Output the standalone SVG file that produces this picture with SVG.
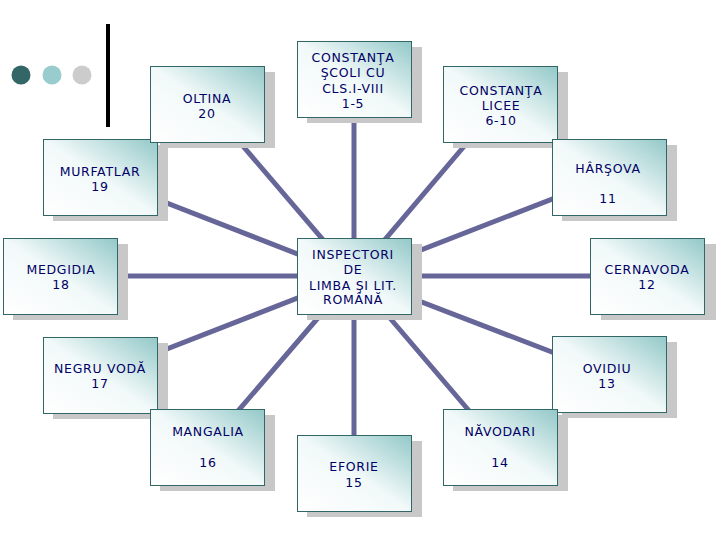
<svg xmlns="http://www.w3.org/2000/svg" width="720" height="540" viewBox="0 0 720 540">
<style>
.box{fill:url(#g);stroke:#336666;stroke-width:1}
.sh{fill:#c8c8c8}
.t{font-family:"DejaVu Sans","Liberation Sans",sans-serif;font-size:12.5px;fill:#000066;text-anchor:middle;letter-spacing:0.7px}
.c{stroke:#666699;stroke-width:5;fill:none}
</style>
<defs>
<linearGradient id="g" x1="1" y1="0" x2="0" y2="1">
<stop offset="0" stop-color="#93c8c8"/>
<stop offset="0.5" stop-color="#f2f9f9"/>
<stop offset="1" stop-color="#ffffff"/>
</linearGradient>
</defs>
<rect width="720" height="540" fill="#ffffff"/>
<g id="decor">
<circle cx="21" cy="75" r="9.5" fill="#336666"/>
<circle cx="52" cy="75" r="9.5" fill="#99cccc"/>
<circle cx="82" cy="75" r="9.5" fill="#cccccc"/>
<rect x="106" y="24" width="4" height="103" fill="#000000"/>
</g>
<g id="connectors">
<line class="c" x1="354" y1="276" x2="207" y2="104"/>
<line class="c" x1="354" y1="276" x2="354" y2="79"/>
<line class="c" x1="354" y1="276" x2="500" y2="104"/>
<line class="c" x1="354" y1="276" x2="100" y2="177"/>
<line class="c" x1="354" y1="276" x2="609" y2="177"/>
<line class="c" x1="354" y1="276" x2="60" y2="276"/>
<line class="c" x1="354" y1="276" x2="648" y2="276"/>
<line class="c" x1="354" y1="276" x2="100" y2="375"/>
<line class="c" x1="354" y1="276" x2="609" y2="374"/>
<line class="c" x1="354" y1="276" x2="207" y2="447"/>
<line class="c" x1="354" y1="276" x2="354" y2="473"/>
<line class="c" x1="354" y1="276" x2="500" y2="447"/>
</g>
<g id="murfatlar">
<rect class="sh" x="53" y="145" width="115" height="76"/>
<rect class="box" x="43.5" y="139.5" width="114" height="76"/>
<text class="t" x="100" y="176">MURFATLAR</text>
<text class="t" x="100" y="191">19</text>
</g>
<g id="oltina">
<rect class="sh" x="160" y="72" width="115" height="76"/>
<rect class="box" x="150.5" y="66.5" width="114" height="76"/>
<text class="t" x="207" y="103">OLTINA</text>
<text class="t" x="207" y="118">20</text>
</g>
<g id="constanta-scoli">
<rect class="sh" x="307" y="47" width="115" height="76"/>
<rect class="box" x="297.5" y="41.5" width="114" height="76"/>
<text class="t" x="353" y="62">CONSTANŢA</text>
<text class="t" x="353" y="77">ŞCOLI CU</text>
<text class="t" x="353" y="92.5">CLS.I-VIII</text>
<text class="t" x="353" y="107.5">1-5</text>
</g>
<g id="constanta-licee">
<rect class="sh" x="453" y="72" width="115" height="76"/>
<rect class="box" x="443.5" y="66.5" width="114" height="76"/>
<text class="t" x="501" y="95">CONSTANŢA</text>
<text class="t" x="501" y="110">LICEE</text>
<text class="t" x="501" y="125">6-10</text>
</g>
<g id="harsova">
<rect class="sh" x="562" y="145" width="115" height="76"/>
<rect class="box" x="552.5" y="139.5" width="114" height="76"/>
<text class="t" x="608" y="173">HÂRŞOVA</text>
<text class="t" x="608" y="203">11</text>
</g>
<g id="medgidia">
<rect class="sh" x="13" y="244" width="115" height="76"/>
<rect class="box" x="3.5" y="238.5" width="114" height="76"/>
<text class="t" x="61" y="274">MEDGIDIA</text>
<text class="t" x="61" y="289">18</text>
</g>
<g id="inspectori">
<rect class="sh" x="307" y="244" width="115" height="76"/>
<rect class="box" x="297.5" y="238.5" width="114" height="76"/>
<text class="t" x="353" y="259">INSPECTORI</text>
<text class="t" x="353" y="274">DE</text>
<text class="t" x="353" y="289.5">LIMBA ŞI LIT.</text>
<text class="t" x="353" y="304">ROMÂNĂ</text>
</g>
<g id="cernavoda">
<rect class="sh" x="601" y="244" width="115" height="76"/>
<rect class="box" x="590.5" y="238.5" width="114" height="76"/>
<text class="t" x="647" y="274">CERNAVODA</text>
<text class="t" x="647" y="289">12</text>
</g>
<g id="negru-voda">
<rect class="sh" x="53" y="343" width="115" height="76"/>
<rect class="box" x="43.5" y="337.5" width="114" height="76"/>
<text class="t" x="100" y="373">NEGRU VODĂ</text>
<text class="t" x="100" y="388">17</text>
</g>
<g id="ovidiu">
<rect class="sh" x="562" y="342" width="115" height="76"/>
<rect class="box" x="552.5" y="336.5" width="114" height="76"/>
<text class="t" x="607" y="373">OVIDIU</text>
<text class="t" x="607" y="388">13</text>
</g>
<g id="mangalia">
<rect class="sh" x="160" y="415" width="115" height="76"/>
<rect class="box" x="150.5" y="409.5" width="114" height="76"/>
<text class="t" x="208" y="436">MANGALIA</text>
<text class="t" x="208" y="467">16</text>
</g>
<g id="eforie">
<rect class="sh" x="307" y="441" width="115" height="76"/>
<rect class="box" x="297.5" y="435.5" width="114" height="76"/>
<text class="t" x="354" y="471">EFORIE</text>
<text class="t" x="354" y="487">15</text>
</g>
<g id="navodari">
<rect class="sh" x="453" y="415" width="115" height="76"/>
<rect class="box" x="443.5" y="409.5" width="114" height="76"/>
<text class="t" x="500" y="436">NĂVODARI</text>
<text class="t" x="500" y="467">14</text>
</g>
</svg>
